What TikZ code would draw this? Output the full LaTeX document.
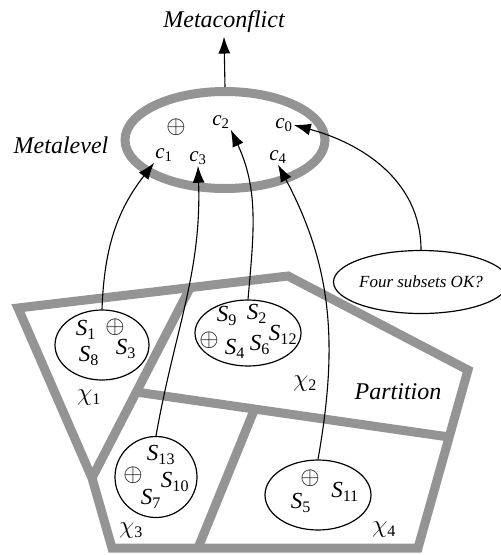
\documentclass[tikz,border=0pt]{standalone}
\usepackage{fontspec}
\setmainfont{Liberation Serif}
\usetikzlibrary{arrows.meta,shapes.geometric}

% an element of a subset: italic S with a subscript
\newcommand{\Sx}[1]{\textit{S}\textsubscript{#1}}
\newcommand{\cx}[1]{\textit{c}\textsubscript{#1}}
\newcommand{\chix}[1]{$\chi$\textsubscript{#1}}

\begin{document}
\begin{tikzpicture}[x=1pt, y=-1pt,
    zone/.style={draw=black!42, line width=9pt, line join=miter},
    subset/.style={draw, ellipse, line width=1.2pt, inner sep=0pt},
    link/.style={-{Latex[length=17pt,width=12pt]}, line width=1.1pt},
    big/.style={font=\fontsize{24}{26}\selectfont\itshape},
    elt/.style={font=\fontsize{23}{24}\selectfont, inner sep=0pt},
    cname/.style={font=\fontsize{21}{22}\selectfont, inner sep=1pt},
    chi/.style={font=\fontsize{23}{24}\selectfont, inner sep=0pt}]

  \useasboundingbox (0,0) rectangle (501,555);

  % the partition into four regions
  \draw[zone] (18,308) -- (288,276) -- (468,370) -- (418,548)
    -- (112,548) -- (92,478) -- cycle;
  \draw[zone] (190,288) -- (92,478);
  \draw[zone] (136,392) -- (449,437);
  \draw[zone] (255,408) -- (198,548);

  % metalevel
  \node[draw=black!42, line width=9pt, ellipse, minimum width=200pt,
    minimum height=97pt] (meta) at (225,140) {};
  \node[big] (conflict) at (224,22) {Metaconflict};
  \node[big] (metalevel) at (61,145) {Metalevel};

  \node[elt] (plusm) at (176,127) {$\oplus$};
  \node[cname] (c2) at (221,122) {\cx{2}};
  \node[cname] (c0) at (284,125) {\cx{0}};
  \node[cname] (c1) at (164,155) {\cx{1}};
  \node[cname] (c3) at (198,158) {\cx{3}};
  \node[cname] (c4) at (278,157) {\cx{4}};

  % the four subsets
  \node[subset, minimum width=94pt, minimum height=70pt] (x1) at (102,345) {};
  \node[subset, minimum width=106pt, minimum height=66pt] (x2) at (248,333) {};
  \node[subset, minimum width=82pt, minimum height=81pt] (x3) at (156,477) {};
  \node[subset, minimum width=106pt, minimum height=70pt] (x4) at (318,495) {};
  \node[subset, minimum width=142pt, minimum height=63pt,
    font=\fontsize{17}{18}\selectfont\itshape] (ok) at (421,282) {Four subsets OK?};

  % elements of each subset
  \node[elt] (s1) at (86,330) {\Sx{1}};
  \node[elt] (p1) at (115,327) {$\oplus$};
  \node[elt] (s3) at (126,349) {\Sx{3}};
  \node[elt] (s8) at (89,356) {\Sx{8}};

  \node[elt] (s9) at (227,316) {\Sx{9}};
  \node[elt] (s2) at (257,314) {\Sx{2}};
  \node[elt] (s12) at (283,335) {\Sx{12}};
  \node[elt] (p2) at (209,340) {$\oplus$};
  \node[elt] (s4) at (235,349) {\Sx{4}};
  \node[elt] (s6) at (260,345) {\Sx{6}};

  \node[elt] (s13) at (161,455) {\Sx{13}};
  \node[elt] (p3) at (133,475) {$\oplus$};
  \node[elt] (s10) at (175,482) {\Sx{10}};
  \node[elt] (s7) at (151,499) {\Sx{7}};

  \node[elt] (p4) at (310,478) {$\oplus$};
  \node[elt] (s11) at (345,492) {\Sx{11}};
  \node[elt] (s5) at (301,503) {\Sx{5}};

  % region names
  \node[chi] (chi1) at (89,398) {\chix{1}};
  \node[chi] (chi2) at (305,384) {\chix{2}};
  \node[chi] (chi3) at (131,531) {\chix{3}};
  \node[chi] (chi4) at (384,530) {\chix{4}};
  \node[big] (partition) at (398,392) {Partition};

  % links up to the metalevel
  \draw[link] (meta.north) -- (conflict.south);
  \draw[link] (x1.north) to[out=88, in=232] (c1.south west);
  \draw[link] (x3.north) to[out=80, in=-88] (c3.south);
  \draw[link] (x2.north) to[out=85, in=-65] (c2.south east);
  \draw[link] (x4.north) to[out=80, in=-62] (c4.south);
  \draw[link] (ok.north) to[out=90, in=-15] (c0.east);
\end{tikzpicture}
\end{document}
